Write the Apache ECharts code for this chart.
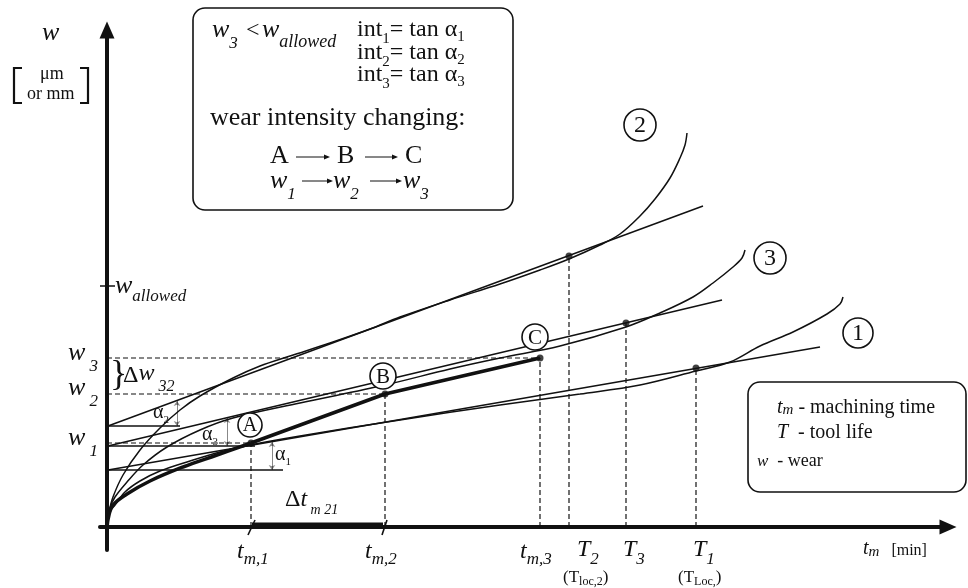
<!DOCTYPE html>
<html><head><meta charset="utf-8">
<script src="https://cdn.jsdelivr.net/npm/echarts@6/dist/echarts.min.js"></script>
<style>html,body{margin:0;padding:0;background:#fff}#c{width:968px;height:588px}</style>
</head><body><div id="c"></div>
<script>
// ---- data (t = machining time, w = wear, arbitrary units) ----
const curve1 = [[0,0],[3,15],[8,22],[18,35],[33,46],[53,56],[83,66],[113,75],[143,82],[193,91],[293,107],[393,122],[473,133],[533,142],[589,156],[623,165],[653,181],[686,195],[720,213],[733,223],[736,230]];
const curve2 = [[0,0],[2,15],[6,30],[16,52],[33,77],[53,99],[73,117],[93,131],[126,149],[153,161],[183,171],[223,184],[263,198],[293,210],[343,227],[393,243],[433,257],[462,268],[493,282],[513,293],[533,311],[548,328],[563,349],[573,369],[578,382],[580,394]];
const curve3 = [[0,0],[3,19],[8,30],[20,45],[36,62],[60,80],[93,97],[126,109],[193,124],[278,142],[343,158],[393,169],[453,181],[519,200],[553,214],[586,230],[606,244],[626,260],[635,269],[638,277]];
const thickCurve = [[0,0],[2,12],[6,22],[20,33],[43,46],[76,60],[110,72],[144,84]];
const thickSegments = [[144,84],[278,133],[433,169]];
const tangent1 = [[1,57],[713,180]];
const tangent2 = [[1,101],[596,321]];
const tangent3 = [[1,81],[615,227]];
const refLines = [[[1,101],[73,101]],[[1,81],[148,81]],[[1,57],[176,57]]];
const alphaArrows = [[70,101,126],[120,81,109],[165,57,85]]; // x, from, to
const pointNames = ['A','B','C','T2','T3','T1'];
const pointT = [144,278,433,462,519,589];
const pointW = [84,133,169,271,204,159];
const wLevels = [84,133,169];       // w1, w2, w3
const wLevelEnds = [144,278,433];
const wAllowed = 241;
const dtBar = [145,276];

const FONT = '"Liberation Serif","Times New Roman",serif';
const mctx = document.createElement('canvas').getContext('2d');
function tw(t,size,it){ mctx.font=(it?'italic ':'')+size+'px '+FONT; return mctx.measureText(t).width; }
const G = [];
function T(x, base, text, size, it, extra){
  G.push({type:'text', z:100, x:x, y:base-0.34*size,
    style:Object.assign({text:text, fontSize:size, fontFamily:FONT, fontStyle:it?'italic':'normal', fill:'#111', verticalAlign:'middle', align:'left'}, extra||{})});
}
function S(x, base, parts){ parts.forEach(p=>{ T(x, base+(p[3]||0), p[0], p[1], p[2]); x += tw(p[0],p[1],p[2]); }); }
function L(pts, width, extra){ G.push({type:'polyline', z:100, shape:{points:pts}, style:Object.assign({stroke:'#111', lineWidth:width||1.5, fill:null}, extra||{})}); }
function arrowH(x1,x2,y){ L([[x1,y],[x2-5,y]],1); G.push({type:'polygon',z:100,shape:{points:[[x2,y],[x2-6,y-2.5],[x2-6,y+2.5]]},style:{fill:'#111'}}); }
function circ(cx,cy,r,label,size){
  G.push({type:'circle', z:99, shape:{cx:cx,cy:cy,r:r}, style:{fill:'#fff',stroke:'#111',lineWidth:1.6}});
  G.push({type:'text', z:100, x:cx, y:cy+1, style:{text:label,fontSize:size,fontFamily:FONT,fill:'#111',align:'center',verticalAlign:'middle'}});
}

// top-left axis title
T(42,42,'w',26,true);
T(40,80,'\u03bcm',18,false); T(27,100,'or mm',18,false);
L([[22,68],[14,68],[14,103],[22,103]],2.2);
L([[80,68],[88,68],[88,103],[80,103]],2.2);
// y labels
S(115,295,[['w',26,true],['allowed',17,true,7]]);
S(68,362,[['w',26,true],[' 3',17,true,10]]);
S(68,397,[['w',26,true],[' 2',17,true,10]]);
S(68,447,[['w',26,true],[' 1',17,true,10]]);
T(110,388,'}',36,false);
S(123,384,[['\u0394',24,false],['w',24,true,-2],[' 32',16,true,8]]);
// alpha labels
S(153,420,[['\u03b1',20,false],['2',11,false,4]]);
S(202,442,[['\u03b1',20,false],['3',11,false,4]]);
S(275,462,[['\u03b1',20,false],['1',11,false,4]]);
// circle labels
circ(250,425,12,'A',20); circ(383,376,13,'B',21); circ(535,337,13,'C',21);
circ(640,125,16,'2',24); circ(770,258,16,'3',24); circ(858,333,15,'1',24);
// x labels
S(237,560,[['t',24,true],['m,1',17,true,5]]);
S(365,560,[['t',24,true],['m,2',17,true,5]]);
S(520,560,[['t',24,true],['m,3',17,true,5]]);
S(577,558,[['T',24,true],['2',17,true,7]]);
S(623,558,[['T',24,true],['3',17,true,7]]);
S(693,558,[['T',24,true],['1',17,true,7]]);
S(563,583,[['(T',17,false],['loc,2',12,false,3],[')',17,false]]);
S(678,583,[['(T',17,false],['Loc,',12,false,3],[')',17,false]]);
S(863,556,[['t',20,true],['m',15,true,1],['   [min]',16,false]]);
S(285,508,[['\u0394',24,false],['t',24,true],[' m 21',14,true,7]]);
// top box
G.push({type:'rect', z:98, shape:{x:193,y:8,width:320,height:202,r:12}, style:{fill:'#fff',stroke:'#111',lineWidth:1.6}});
S(212,39,[['w',26,true],['3',17,true,10]]); T(246,39,'<',24,false); S(262,39,[['w',26,true],['allowed',18,true,9]]);
S(357,38,[['int',24,false],['1',15,false,6],['= tan \u03b1',24,false],['1',15,false,4]]);
S(357,61,[['int',24,false],['2',15,false,6],['= tan \u03b1',24,false],['2',15,false,4]]);
S(357,83,[['int',24,false],['3',15,false,6],['= tan \u03b1',24,false],['3',15,false,4]]);
T(210,127,'wear intensity changing:',26,false);
T(270,165,'A',26,false); arrowH(296,330,157); T(337,165,'B',26,false); arrowH(365,398,157); T(405,165,'C',26,false);
S(270,190,[['w',26,true],['1',17,true,10]]); arrowH(302,333,181);
S(333,190,[['w',26,true],['2',17,true,10]]); arrowH(370,402,181);
S(403,190,[['w',26,true],['3',17,true,10]]);
// legend box
G.push({type:'rect', z:98, shape:{x:748,y:382,width:218,height:110,r:12}, style:{fill:'#fff',stroke:'#111',lineWidth:1.6}});
S(777,415,[['t',20,true],['m',15,true],[' - machining time',20,false]]);
S(777,440,[['T',20,true],['  - tool life',20,false]]);
S(757,467,[['w',17,true],['  - wear',18,false]]);

const thin = {color:'#111', width:1.5};
const dashed = {color:'#111', width:1.2, type:[5,3]};
function lineS(data, style, smooth){ return {type:'line', data:data, showSymbol:false, symbol:'none', smooth:smooth||false, lineStyle:style, silent:true, z:3}; }
const series = [
  lineS(curve1, thin, 0.35), lineS(curve2, thin, 0.35), lineS(curve3, thin, 0.35),
  lineS(tangent1, thin), lineS(tangent2, thin), lineS(tangent3, thin),
  lineS(thickCurve, {color:'#111',width:3.5}, 0.4), lineS(thickSegments, {color:'#111',width:3.5}),
  lineS([[dtBar[0],2],[dtBar[1],2]], {color:'#111',width:5}),
  lineS([[dtBar[0]+3,7],[dtBar[0]-4,-8]], {color:'#111',width:1.6}),
  lineS([[dtBar[1]+4,7],[dtBar[1]-1,-8]], {color:'#111',width:1.6}),
  lineS([[-7,wAllowed],[8,wAllowed]], {color:'#111',width:1.5})
];
refLines.forEach(r=>series.push(lineS(r,thin)));
wLevels.forEach((v,i)=>series.push(lineS([[0,v],[wLevelEnds[i],v]],dashed)));
pointT.forEach((t,i)=>series.push(lineS([[t,0],[t,pointW[i]]],dashed)));
series.push({type:'lines', coordinateSystem:'cartesian2d', z:4, symbol:['arrow','arrow'], symbolSize:5,
  lineStyle:{color:'#111',width:1}, data:alphaArrows.map(a=>({coords:[[a[0],a[1]],[a[0],a[2]]]}))});
series.push({type:'scatter', z:5, symbolSize:7, itemStyle:{color:'#111'}, data:pointT.map((t,i)=>[t,pointW[i],pointNames[i]])});

const axisCommon = {type:'value', splitLine:{show:false}, axisTick:{show:false}, axisLabel:{show:false},
  axisLine:{show:true, onZero:true, symbol:['none','triangle'], symbolSize:[15,17], lineStyle:{color:'#111',width:4}}};
const chart = echarts.init(document.getElementById('c'), null, {renderer:'canvas'});
chart.setOption({
  backgroundColor:'#fff', animation:false,
  grid:{left:100,right:20,top:30,bottom:38},
  xAxis:Object.assign({min:-7,max:841}, axisCommon),
  yAxis:Object.assign({min:-23,max:497}, axisCommon),
  series:series,
  graphic:G
});
</script></body></html>
